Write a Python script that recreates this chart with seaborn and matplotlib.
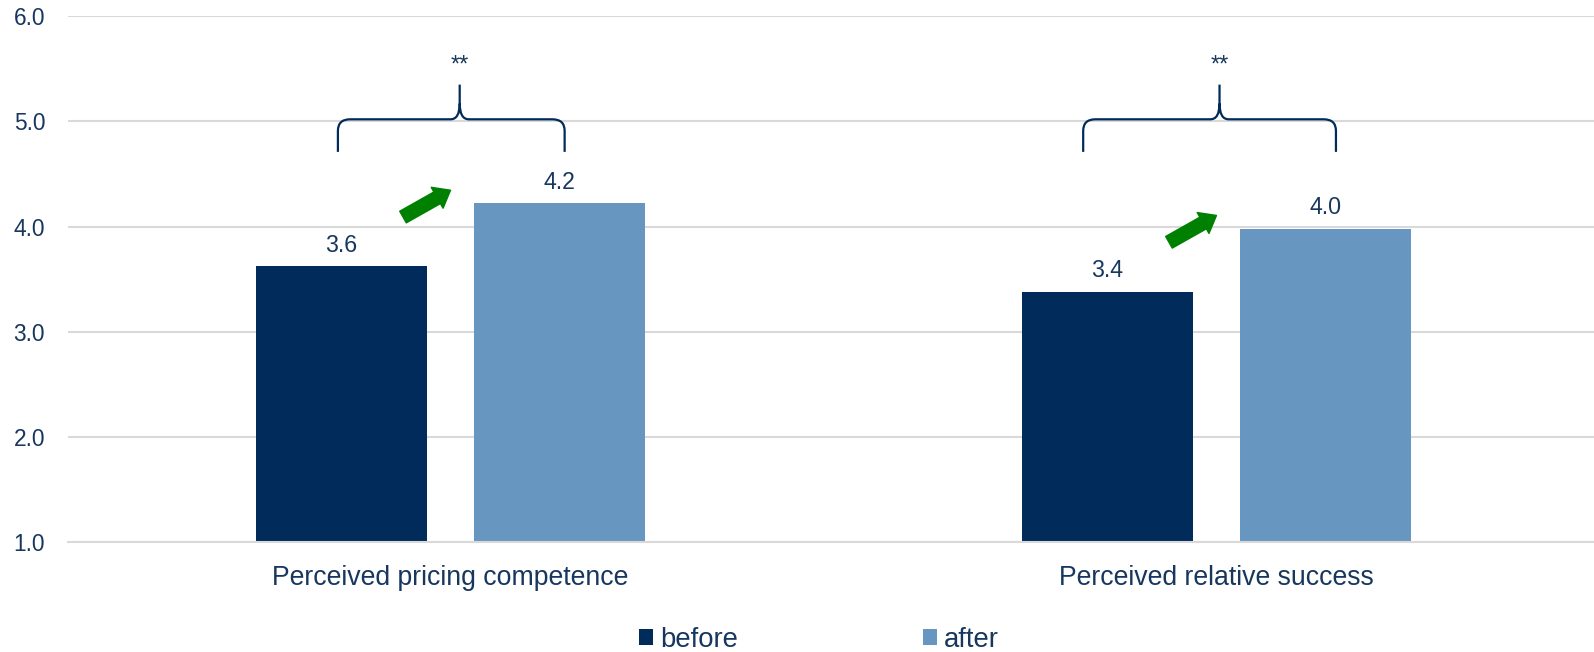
import matplotlib
matplotlib.use("Agg")
import matplotlib.pyplot as plt
from matplotlib.path import Path
from matplotlib.patches import PathPatch
import pandas as pd
import seaborn as sns

# ---- data -------------------------------------------------------------
measures = ["Perceived pricing competence", "Perceived relative success"]
phases = ["before", "after"]
before_scores = [3.62, 3.38]
after_scores = [4.22, 3.98]
significance = ["**", "**"]
y_ticks = [1.0, 2.0, 3.0, 4.0, 5.0, 6.0]

# ---- styling ----------------------------------------------------------
NAVY = "#002B5A"
STEEL = "#6797C0"
TEXT = "#17375E"
GRID = "#D9D9D9"
GREEN = "#008000"

sns.set_theme(style="white")
plt.rcParams["font.family"] = ["Liberation Sans", "DejaVu Sans"]

df = pd.DataFrame({
    "measure": measures * 2,
    "phase": [phases[0]] * len(measures) + [phases[1]] * len(measures),
    "score": before_scores + after_scores,
})

fig = plt.figure(figsize=(15.94, 6.52), dpi=100)
ax = fig.add_axes([0.0427, 0.169, 1 - 0.0427, 0.806])

sns.barplot(data=df, x="measure", y="score", hue="phase", order=measures,
            hue_order=phases, palette=[NAVY, STEEL], saturation=1,
            width=0.57, gap=0.217, linewidth=0, ax=ax)

ax.set_xlim(-0.4993, 1.4929)
ax.set_ylim(y_ticks[0], y_ticks[-1])
ax.set_yticks(y_ticks)
ax.set_yticklabels([f"{t:.1f}" for t in y_ticks])
ax.set_xlabel("")
ax.set_ylabel("")

ax.yaxis.grid(True, color=GRID, linewidth=1.5)
ax.set_axisbelow(True)
for side in ["top", "left", "right"]:
    ax.spines[side].set_visible(False)
ax.spines["bottom"].set_color(GRID)
ax.spines["bottom"].set_linewidth(1.5)

ax.tick_params(axis="y", length=0, pad=16.5, labelsize=16.4, labelcolor=TEXT)
ax.tick_params(axis="x", length=0, pad=16.5, labelsize=19.2, labelcolor=TEXT)

# value labels on top of each bar
for container in ax.containers:
    ax.bar_label(container, fmt="%.1f", padding=7, fontsize=16.7, color=TEXT)

# green arrows showing the before -> after increase
for i, (b, a) in enumerate(zip(before_scores, after_scores)):
    ax.annotate("", xy=(i, a + 0.125), xytext=(i - 0.062, b + 0.47),
                arrowprops=dict(arrowstyle="simple,head_width=1.8,head_length=1.15,tail_width=1.0",
                                mutation_scale=9.6, color=GREEN, shrinkA=0, shrinkB=0))

# curly braces with significance markers
brace_spans = [(-0.147, 0.149, 0.012), (-0.174, 0.156, 0.004)]
y_arm, y_bar, y_tip = 4.71, 5.02, 5.35
rx, ry = 0.016, 0.11
cx, cy = 0.012, 0.15
for i, ((l, r, t), mark) in enumerate(zip(brace_spans, significance)):
    L, R, T = i + l, i + r, i + t
    verts = [
        (L, y_arm), (L, y_bar - ry), (L, y_bar), (L + rx, y_bar),
        (T - cx, y_bar), (T, y_bar), (T, y_bar + cy), (T, y_tip),
        (R, y_arm), (R, y_bar - ry), (R, y_bar), (R - rx, y_bar),
        (T + cx, y_bar), (T, y_bar), (T, y_bar + cy),
    ]
    codes = [
        Path.MOVETO, Path.LINETO, Path.CURVE3, Path.CURVE3,
        Path.LINETO, Path.CURVE3, Path.CURVE3, Path.LINETO,
        Path.MOVETO, Path.LINETO, Path.CURVE3, Path.CURVE3,
        Path.LINETO, Path.CURVE3, Path.CURVE3,
    ]
    ax.add_patch(PathPatch(Path(verts, codes), fill=False, edgecolor=NAVY,
                           linewidth=1.6, clip_on=False))
    ax.text(T, 5.53, mark, ha="center", va="center", fontsize=17, color=TEXT)

# legend along the bottom edge
handles, labels = ax.get_legend_handles_labels()
if ax.get_legend() is not None:
    ax.get_legend().remove()
fig.legend(handles, labels, loc="center left",
           bbox_to_anchor=(639 / 1594, 1 - 640 / 652), ncol=2, frameon=False,
           fontsize=19.8, labelcolor=TEXT, handlelength=0.51, handleheight=0.51,
           handletextpad=0.25, columnspacing=6.73, borderpad=0, borderaxespad=0)

fig.savefig("out.png", dpi=100)
